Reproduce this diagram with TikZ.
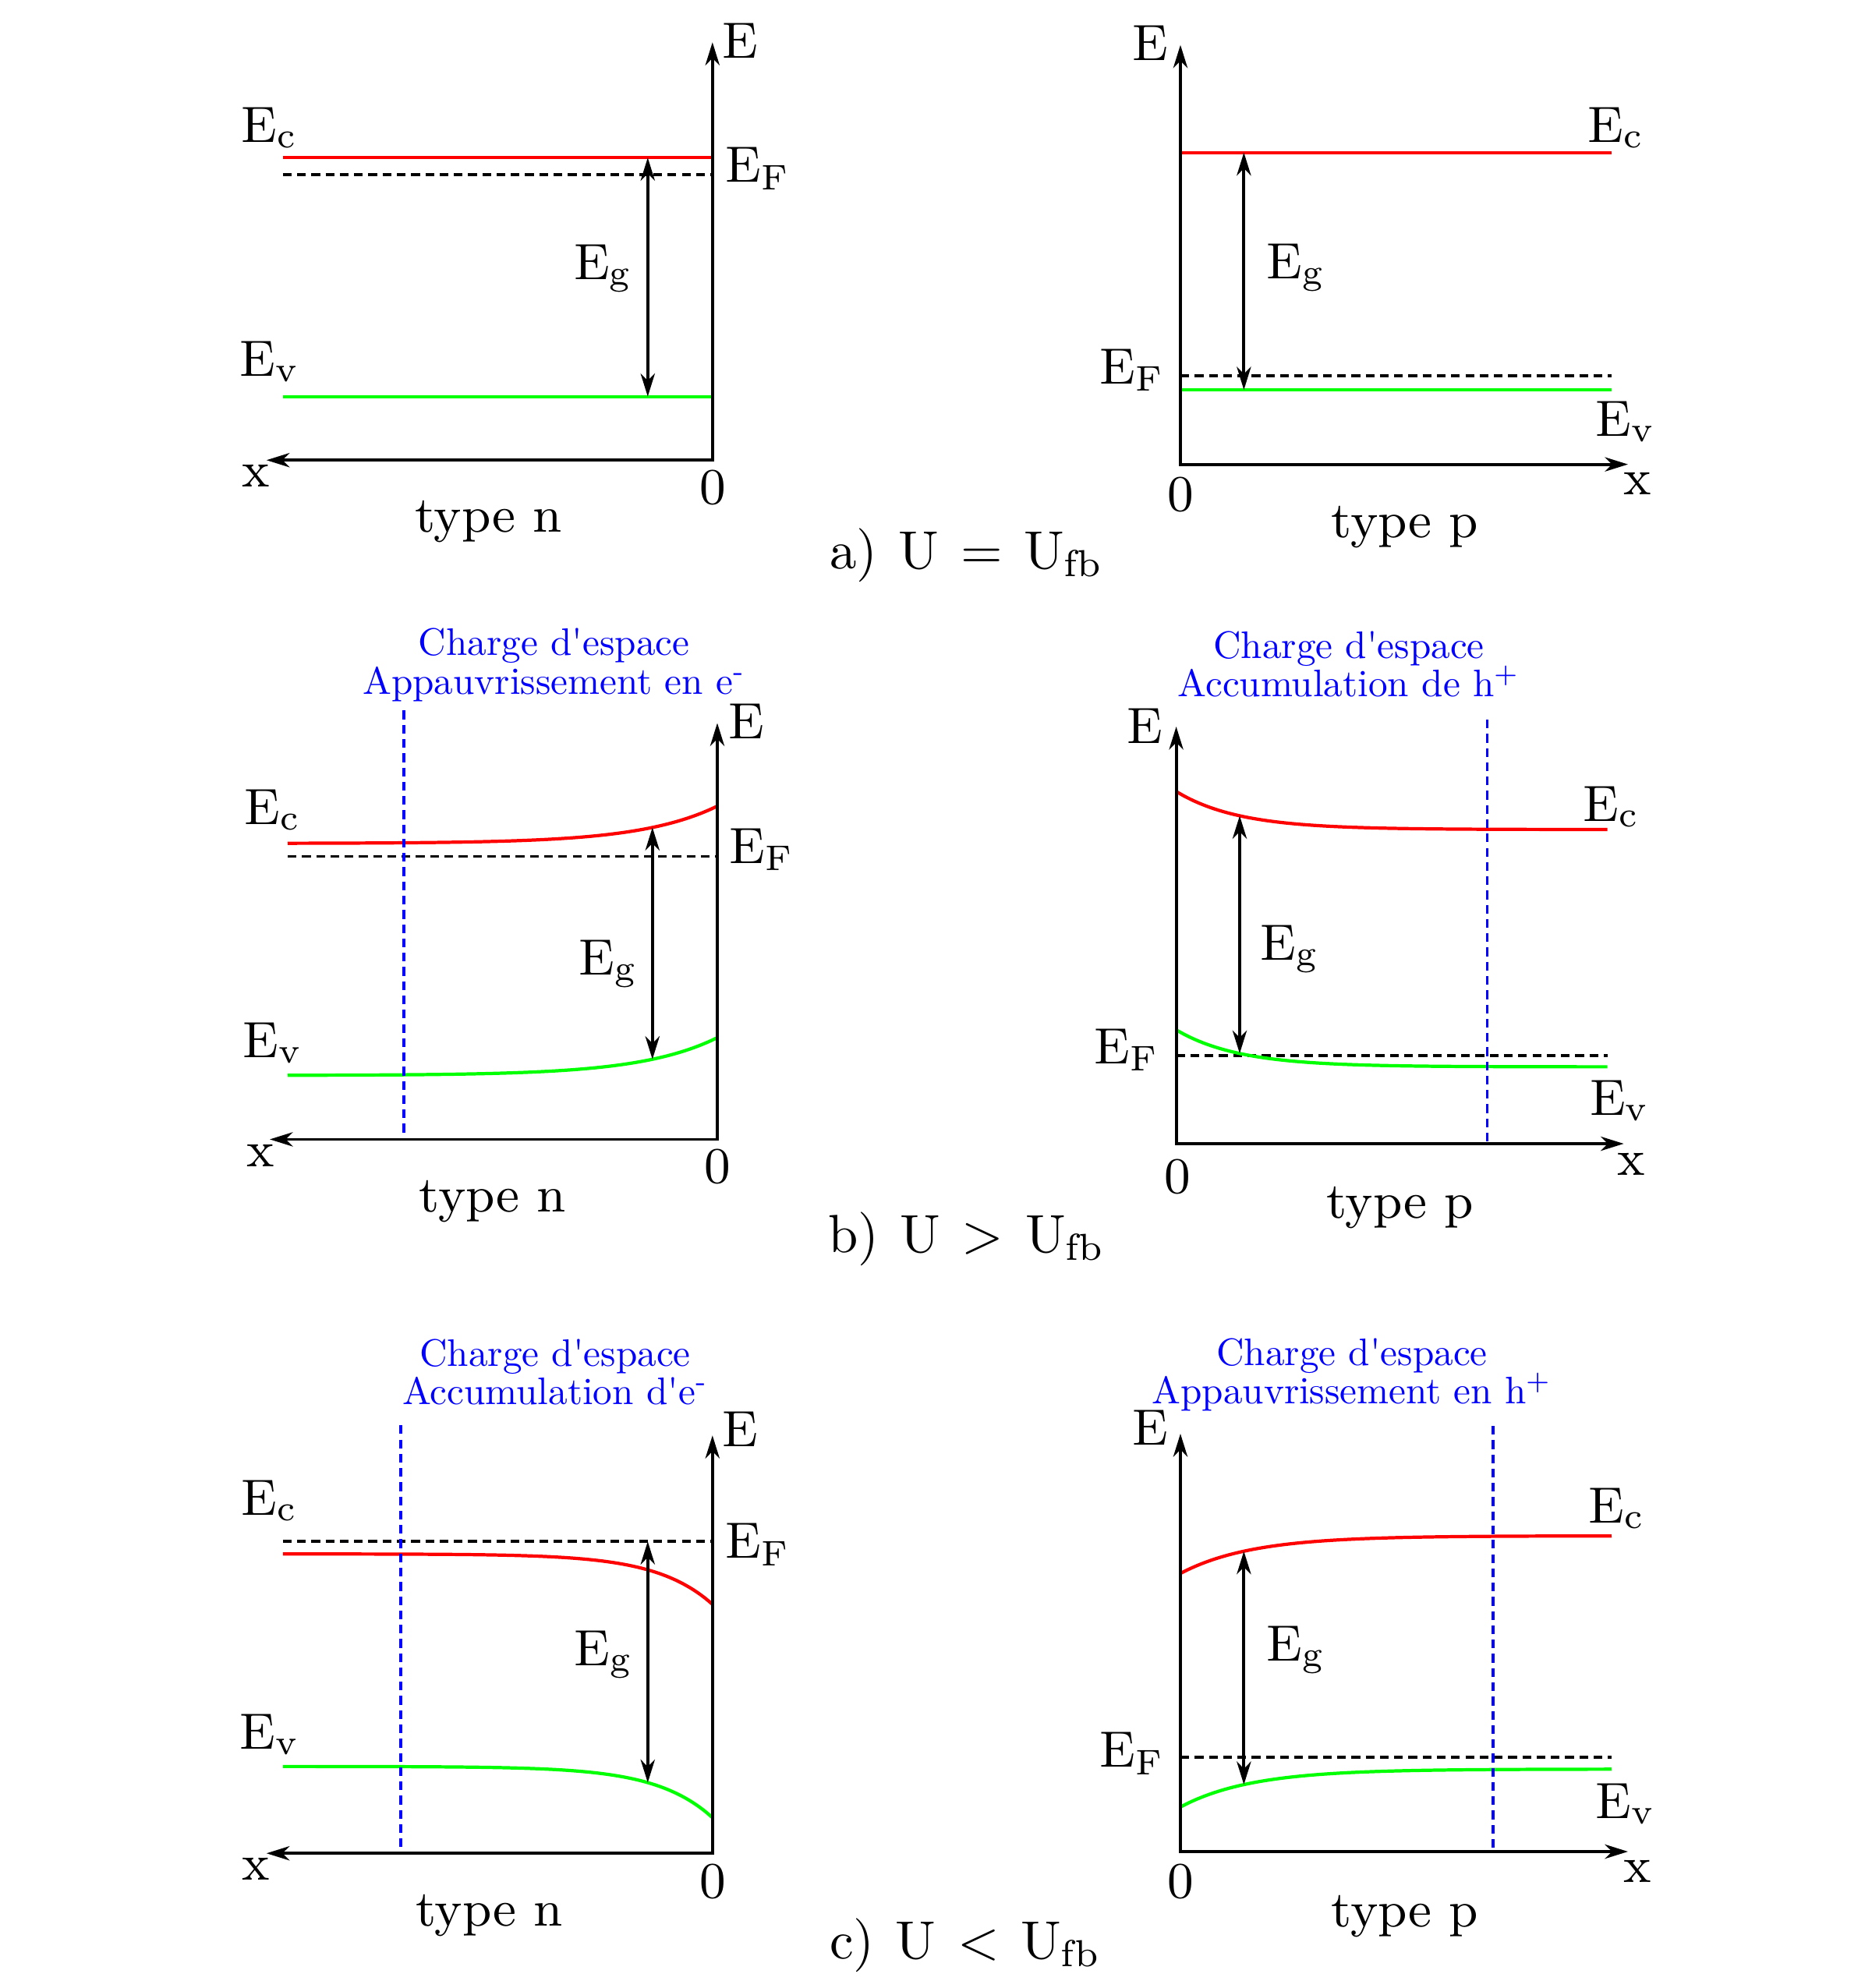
\documentclass[tikz,border=0pt]{standalone}
\usepackage{tikz}
\usetikzlibrary{arrows.meta}
\definecolor{bandred}{RGB}{255,0,0}
\definecolor{bandgreen}{RGB}{0,255,0}
\definecolor{zoneblue}{RGB}{0,0,255}
\tikzset{
  font=\fontsize{9.3}{11}\selectfont,
  >={Stealth[length=4.2pt,width=2.6pt,inset=1.3pt]},
  axis/.style={<->,draw=black,line width=0.55pt},
  cband/.style={draw=bandred,line width=0.6pt},
  vband/.style={draw=bandgreen,line width=0.6pt},
  fermi/.style={draw=black,line width=0.5pt,dash pattern=on 1.6pt off 1pt},
  zone/.style={draw=zoneblue,line width=0.5pt,dash pattern=on 1.6pt off 1pt},
  gap/.style={<->,draw=black,line width=0.55pt},
  lbl/.style={inner sep=0pt},
  zonelbl/.style={text=zoneblue,align=center,inner sep=0pt,scale=0.7,font=\fontsize{10}{10}\selectfont},
  caption/.style={inner sep=0pt,font=\fontsize{9.8}{12}\selectfont}
}

\begin{document}
\begin{tikzpicture}[x=1mm,y=1mm]

  \useasboundingbox (0,-127.5) rectangle (120,0);

  % a) flat bands
  \begin{scope}[shift={(45.69,-29.51)}]
    \coordinate (aL-o) at (0,0);
    \coordinate (aL-xend) at (-28.6,0);
    \coordinate (aL-Eend) at (0,26.8);
    \coordinate (aL-top) at (-4.15,19.4);
    \coordinate (aL-bot) at (-4.15,4.08);
    \draw[cband] (-27.55,19.4) -- (0,19.4);
    \draw[fermi] (-27.55,18.3) -- (0,18.3);
    \draw[vband] (-27.55,4.08) -- (0,4.08);
    \draw[axis] (aL-xend) -- (aL-o) -- (aL-Eend);
    \draw[gap] (aL-top) -- (aL-bot);
    \node[lbl] (aL-E) at (1.8,26.9) {E};
    \node[lbl] (aL-Ec) at (-28.4,21.3) {E\textsubscript{c}};
    \node[lbl] (aL-EF) at (2.9,18.7) {E\textsubscript{F}};
    \node[lbl] (aL-Eg) at (-7.0,12.3) {E\textsubscript{g}};
    \node[lbl] (aL-Ev) at (-28.4,6.3) {E\textsubscript{v}};
    \node[lbl] (aL-x) at (-29.3,-1.0) {x};
    \node[lbl] (aL-0) at (0.05,-1.75) {0};
    \node[lbl] (aL-type) at (-14.35,-3.95) {type n};
  \end{scope}

  \begin{scope}[shift={(75.7,-29.78)}]
    \coordinate (aR-o) at (0,0);
    \coordinate (aR-xend) at (28.7,0);
    \coordinate (aR-Eend) at (0,26.9);
    \coordinate (aR-top) at (4.07,20.0);
    \coordinate (aR-bot) at (4.07,4.78);
    \draw[cband] (0,20.0) -- (27.65,20.0);
    \draw[fermi] (0,5.69) -- (27.65,5.69);
    \draw[vband] (0,4.78) -- (27.65,4.78);
    \draw[axis] (aR-xend) -- (aR-o) -- (aR-Eend);
    \draw[gap] (aR-top) -- (aR-bot);
    \node[lbl] (aR-E) at (-1.95,27.0) {E};
    \node[lbl] (aR-Ec) at (27.95,21.6) {E\textsubscript{c}};
    \node[lbl] (aR-Eg) at (7.4,12.6) {E\textsubscript{g}};
    \node[lbl] (aR-EF) at (-3.08,6.04) {E\textsubscript{F}};
    \node[lbl] (aR-Ev) at (28.55,2.75) {E\textsubscript{v}};
    \node[lbl] (aR-x) at (29.3,-1.23) {x};
    \node[lbl] (aR-0) at (0,-1.94) {0};
    \node[lbl] (aR-type) at (14.4,-4.02) {type p};
  \end{scope}

  \node[caption] (capA) at (62.0,-35.6) {a)\hspace{.4em}U\hspace{.4em}=\hspace{.4em}U\textsubscript{fb}};

  % b) U > Ufb
  \begin{scope}[shift={(46.0,-73.07)}]
    \coordinate (bL-o) at (0,0);
    \coordinate (bL-xend) at (-28.7,0);
    \coordinate (bL-Eend) at (0,26.7);
    \coordinate (bL-top) at (-4.16,{18.98+2.39*exp(-4.16/4.9)});
    \coordinate (bL-bot) at (-4.16,{4.1+2.42*exp(-4.16/4.9)});
    \coordinate (bL-ztop) at (-20.1,27.5);
    \coordinate (bL-zbot) at (-20.1,0);
    \draw[cband] plot[domain=-27.55:0,samples=60,smooth] (\x,{18.98+2.39*exp(\x/4.9)});
    \draw[fermi] (-27.55,18.14) -- (0,18.14);
    \draw[vband] plot[domain=-27.55:0,samples=60,smooth] (\x,{4.1+2.42*exp(\x/4.9)});
    \draw[zone] (bL-ztop) -- (bL-zbot);
    \draw[axis] (bL-xend) -- (bL-o) -- (bL-Eend);
    \draw[gap] (bL-top) -- (bL-bot);
    \node[zonelbl] (bL-zone) at (-10.47,30.43) {Charge d\textquotesingle espace\\Appauvrissement en e\textsuperscript{-}};
    \node[lbl] (bL-E) at (1.87,26.8) {E};
    \node[lbl] (bL-Ec) at (-28.5,21.1) {E\textsubscript{c}};
    \node[lbl] (bL-EF) at (2.85,18.6) {E\textsubscript{F}};
    \node[lbl] (bL-Eg) at (-7.0,11.23) {E\textsubscript{g}};
    \node[lbl] (bL-Ev) at (-28.5,6.18) {E\textsubscript{v}};
    \node[lbl] (bL-x) at (-29.3,-1.07) {x};
    \node[lbl] (bL-0) at (0,-1.75) {0};
    \node[lbl] (bL-type) at (-14.4,-3.97) {type n};
  \end{scope}

  \begin{scope}[shift={(75.43,-73.35)}]
    \coordinate (bR-o) at (0,0);
    \coordinate (bR-xend) at (28.7,0);
    \coordinate (bR-Eend) at (0,26.75);
    \coordinate (bR-top) at (4.07,{20.15+2.44*exp(-4.07/4)});
    \coordinate (bR-bot) at (4.07,{4.93+2.37*exp(-4.07/4)});
    \coordinate (bR-ztop) at (19.95,27.2);
    \coordinate (bR-zbot) at (19.95,0);
    \draw[cband] plot[domain=0:27.65,samples=60,smooth] (\x,{20.15+2.44*exp(-\x/4)});
    \draw[fermi] (0,5.66) -- (27.65,5.66);
    \draw[vband] plot[domain=0:27.65,samples=60,smooth] (\x,{4.93+2.37*exp(-\x/4)});
    \draw[zone] (bR-ztop) -- (bR-zbot);
    \draw[axis] (bR-xend) -- (bR-o) -- (bR-Eend);
    \draw[gap] (bR-top) -- (bR-bot);
    \node[zonelbl] (bR-zone) at (11.07,30.75) {Charge d\textquotesingle espace\\Accumulation de h\textsuperscript{\smash{+}}};
    \node[lbl] (bR-E) at (-2.02,26.8) {E};
    \node[lbl] (bR-Ec) at (27.9,21.6) {E\textsubscript{c}};
    \node[lbl] (bR-Eg) at (7.28,12.5) {E\textsubscript{g}};
    \node[lbl] (bR-EF) at (-3.17,6.0) {E\textsubscript{F}};
    \node[lbl] (bR-Ev) at (28.45,2.74) {E\textsubscript{v}};
    \node[lbl] (bR-x) at (29.2,-1.3) {x};
    \node[lbl] (bR-0) at (0.07,-2.1) {0};
    \node[lbl] (bR-type) at (14.35,-4.1) {type p};
  \end{scope}

  \node[caption] (capB) at (62.0,-79.45) {b)\hspace{.4em}U\hspace{.4em}>\hspace{.4em}U\textsubscript{fb}};

  % c) U < Ufb
  \begin{scope}[shift={(45.69,-118.86)}]
    \coordinate (cL-o) at (0,0);
    \coordinate (cL-xend) at (-28.6,0);
    \coordinate (cL-Eend) at (0,26.8);
    \coordinate (cL-top) at (-4.15,20.0);
    \coordinate (cL-bot) at (-4.15,{5.57-3.28*exp(-4.15/3.6)});
    \coordinate (cL-ztop) at (-20.0,27.45);
    \coordinate (cL-zbot) at (-20.0,0);
    \draw[cband] plot[domain=-27.55:0,samples=60,smooth] (\x,{19.2-3.23*exp(\x/3.6)});
    \draw[fermi] (-27.55,20.0) -- (0,20.0);
    \draw[vband] plot[domain=-27.55:0,samples=60,smooth] (\x,{5.57-3.28*exp(\x/3.6)});
    \draw[zone] (cL-ztop) -- (cL-zbot);
    \draw[axis] (cL-xend) -- (cL-o) -- (cL-Eend);
    \draw[gap] (cL-top) -- (cL-bot);
    \node[zonelbl] (cL-zone) at (-10.09,30.86) {Charge d\textquotesingle espace\\Accumulation d\textquotesingle e\textsuperscript{-}};
    \node[lbl] (cL-E) at (1.8,27.2) {E};
    \node[lbl] (cL-Ec) at (-28.4,22.6) {E\textsubscript{c}};
    \node[lbl] (cL-EF) at (2.9,19.8) {E\textsubscript{F}};
    \node[lbl] (cL-Eg) at (-6.97,12.73) {E\textsubscript{g}};
    \node[lbl] (cL-Ev) at (-28.4,7.63) {E\textsubscript{v}};
    \node[lbl] (cL-x) at (-29.3,-1.0) {x};
    \node[lbl] (cL-0) at (0.05,-1.8) {0};
    \node[lbl] (cL-type) at (-14.3,-4.0) {type n};
  \end{scope}

  \begin{scope}[shift={(75.7,-118.75)}]
    \coordinate (cR-o) at (0,0);
    \coordinate (cR-xend) at (28.7,0);
    \coordinate (cR-Eend) at (0,26.8);
    \coordinate (cR-top) at (4.07,{20.25-2.41*exp(-4.07/4.55)});
    \coordinate (cR-bot) at (4.07,{5.29-2.43*exp(-4.07/4.55)});
    \coordinate (cR-ztop) at (20.05,27.3);
    \coordinate (cR-zbot) at (20.05,0);
    \draw[cband] plot[domain=0:27.65,samples=60,smooth] (\x,{20.25-2.41*exp(-\x/4.55)});
    \draw[fermi] (0,6.04) -- (27.65,6.04);
    \draw[vband] plot[domain=0:27.65,samples=60,smooth] (\x,{5.29-2.43*exp(-\x/4.55)});
    \draw[zone] (cR-ztop) -- (cR-zbot);
    \draw[axis] (cR-xend) -- (cR-o) -- (cR-Eend);
    \draw[gap] (cR-top) -- (cR-bot);
    \node[zonelbl] (cR-zone) at (11.0,30.6) {Charge d\textquotesingle espace\\Appauvrissement en h\textsuperscript{\smash{+}}};
    \node[lbl] (cR-E) at (-1.95,27.2) {E};
    \node[lbl] (cR-Ec) at (28.0,22.0) {E\textsubscript{c}};
    \node[lbl] (cR-Eg) at (7.4,12.95) {E\textsubscript{g}};
    \node[lbl] (cR-EF) at (-3.08,6.29) {E\textsubscript{F}};
    \node[lbl] (cR-Ev) at (28.55,3.06) {E\textsubscript{v}};
    \node[lbl] (cR-x) at (29.3,-1.29) {x};
    \node[lbl] (cR-0) at (0,-1.91) {0};
    \node[lbl] (cR-type) at (14.4,-4.15) {type p};
  \end{scope}

  \node[caption] (capC) at (61.9,-124.75) {c)\hspace{.4em}U\hspace{.4em}<\hspace{.4em}U\textsubscript{fb}};

\end{tikzpicture}
\end{document}
